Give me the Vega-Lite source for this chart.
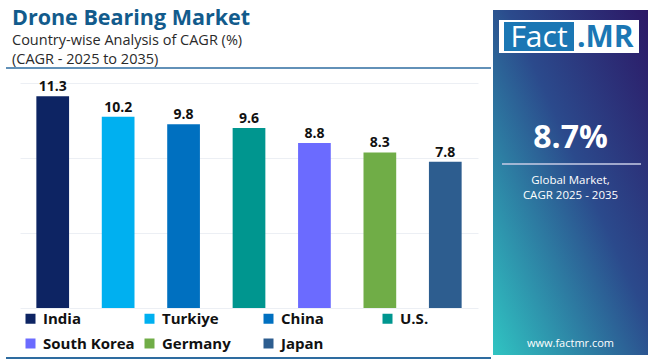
{
  "$schema": "https://vega.github.io/schema/vega-lite/v6.json",
  "padding": {"left": 5, "top": 8, "right": 0, "bottom": 0},
  "background": "white",
  "spacing": 1,
  "config": {"view": {"stroke": null}, "font": "Open Sans"},
  "hconcat": [
    {
      "width": 458,
      "height": 225,
      "title": {
        "text": "Drone Bearing Market",
        "subtitle": ["Country-wise Analysis of CAGR (%)", "(CAGR - 2025 to 2035)"],
        "anchor": "start",
        "frame": "group",
        "dx": -8,
        "font": "Open Sans",
        "fontSize": 21.5,
        "fontWeight": "bold",
        "color": "#125b8c",
        "subtitleFont": "Open Sans",
        "subtitleFontSize": 14.5,
        "subtitleColor": "#2a2a2a",
        "subtitleLineHeight": 19,
        "subtitlePadding": 4,
        "offset": 1
      },
      "data": {
        "values": [
          {"country": "India", "cagr": 11.3},
          {"country": "Turkiye", "cagr": 10.2},
          {"country": "China", "cagr": 9.8},
          {"country": "U.S.", "cagr": 9.6},
          {"country": "South Korea", "cagr": 8.8},
          {"country": "Germany", "cagr": 8.3},
          {"country": "Japan", "cagr": 7.8}
        ]
      },
      "layer": [
        {
          "mark": {"type": "bar"},
          "encoding": {
            "x": {"field": "country", "type": "nominal", "sort": null, "scale": {"paddingInner": 0.5, "paddingOuter": 0.25}, "axis": null},
            "y": {"field": "cagr", "type": "quantitative", "scale": {"domain": [0, 12]},
              "axis": {"values": [0, 2, 4, 6, 8, 10, 12], "grid": true, "gridColor": "#eceff4", "labels": false, "ticks": false, "domain": false, "title": null}},
            "color": {
              "field": "country", "type": "nominal", "sort": null,
              "scale": {
                "domain": ["India", "Turkiye", "China", "U.S.", "South Korea", "Germany", "Japan"],
                "range": ["#0d2463", "#00b0f0", "#0070c0", "#00968f", "#6b6bff", "#70ad47", "#2d5d8f"]
              },
              "legend": {
                "orient": "none", "legendX": 3, "legendY": 228,
                "direction": "horizontal", "columns": 4, "title": null,
                "symbolType": "square", "symbolSize": 100, "symbolStrokeWidth": 0,
                "labelFont": "Open Sans", "labelFontSize": 15, "labelFontWeight": "bold", "labelColor": "#111111",
                "labelOffset": 5, "columnPadding": 7, "rowPadding": 9, "gridAlign": "all"
              }
            }
          }
        },
        {
          "mark": {"type": "text", "dy": -9, "fontSize": 14, "fontWeight": "bold", "color": "#111111", "font": "Open Sans"},
          "encoding": {
            "x": {"field": "country", "type": "nominal", "sort": null},
            "y": {"field": "cagr", "type": "quantitative"},
            "text": {"field": "cagr", "type": "quantitative", "format": ".1f"}
          }
        },
        {
          "data": {"values": [{"line": "separator"}]},
          "mark": {"type": "rule", "color": "#2e6ca0", "strokeWidth": 1.5},
          "encoding": {"x": {"value": -14}, "x2": {"value": 471}, "y": {"value": -15}}
        },
        {
          "data": {"values": [{"line": "bottom"}]},
          "mark": {"type": "rule", "color": "#2e6ca0", "strokeWidth": 2},
          "encoding": {"x": {"value": -14}, "x2": {"value": 471}, "y": {"value": 275}}
        }
      ]
    },
    {
      "width": 155,
      "height": 272,
      "data": {"values": [
        {"item": "kpi", "text": "8.7%"},
        {"item": "sub1", "text": "Global Market,"},
        {"item": "sub2", "text": "CAGR 2025 - 2035"},
        {"item": "url", "text": "www.factmr.com"},
        {"item": "logo1", "text": "Fact"},
        {"item": "logo2", "text": ".MR"}
      ]},
      "layer": [
        {
          "transform": [{"filter": "datum.item === 'kpi'"}],
          "mark": {"type": "rect", "color": {"gradient": "linear", "x1": 1, "y1": 0, "x2": 0, "y2": 1,
            "stops": [{"offset": 0, "color": "#2c1866"}, {"offset": 0.45, "color": "#2b4a8c"}, {"offset": 1, "color": "#30c4c2"}]}},
          "encoding": {"x": {"value": 0}, "x2": {"value": "width"}, "y": {"value": -73}, "y2": {"value": "height"}}
        },
        {
          "transform": [{"filter": "datum.item === 'logo1'"}],
          "mark": {"type": "rect", "color": "white"},
          "encoding": {"x": {"value": 6}, "x2": {"value": 146}, "y": {"value": -63}, "y2": {"value": -30}}
        },
        {
          "transform": [{"filter": "datum.item === 'logo1'"}],
          "mark": {"type": "rect", "color": "#1b77b4"},
          "encoding": {"x": {"value": 11}, "x2": {"value": 81}, "y": {"value": -61}, "y2": {"value": -32}}
        },
        {
          "transform": [{"filter": "datum.item === 'logo1'"}],
          "mark": {"type": "text", "color": "white", "font": "Open Sans", "fontSize": 30, "align": "center", "baseline": "alphabetic"},
          "encoding": {"x": {"value": 46}, "y": {"value": -36}, "text": {"field": "text"}}
        },
        {
          "transform": [{"filter": "datum.item === 'logo2'"}],
          "mark": {"type": "text", "color": "#1b77b4", "font": "Open Sans", "fontSize": 30, "fontWeight": "bold", "align": "left", "baseline": "alphabetic"},
          "encoding": {"x": {"value": 84}, "y": {"value": -36}, "text": {"field": "text"}}
        },
        {
          "transform": [{"filter": "datum.item === 'kpi'"}],
          "mark": {"type": "text", "color": "white", "font": "Open Sans", "fontSize": 32, "fontWeight": "bold", "align": "center", "baseline": "alphabetic"},
          "encoding": {"x": {"value": 77.5}, "y": {"value": 65}, "text": {"field": "text"}}
        },
        {
          "transform": [{"filter": "datum.item === 'kpi'"}],
          "mark": {"type": "rule", "color": "#c9cde6", "strokeWidth": 1.5},
          "encoding": {"x": {"value": 9}, "x2": {"value": 148}, "y": {"value": 81}}
        },
        {
          "transform": [{"filter": "datum.item === 'sub1'"}],
          "mark": {"type": "text", "color": "white", "font": "Open Sans", "fontSize": 11.5, "align": "center", "baseline": "alphabetic"},
          "encoding": {"x": {"value": 77.5}, "y": {"value": 100.5}, "text": {"field": "text"}}
        },
        {
          "transform": [{"filter": "datum.item === 'sub2'"}],
          "mark": {"type": "text", "color": "white", "font": "Open Sans", "fontSize": 11.5, "align": "center", "baseline": "alphabetic"},
          "encoding": {"x": {"value": 77.5}, "y": {"value": 116}, "text": {"field": "text"}}
        },
        {
          "transform": [{"filter": "datum.item === 'url'"}],
          "mark": {"type": "text", "color": "white", "font": "Open Sans", "fontSize": 11, "align": "center", "baseline": "alphabetic"},
          "encoding": {"x": {"value": 77.5}, "y": {"value": 264}, "text": {"field": "text"}}
        }
      ]
    }
  ]
}
